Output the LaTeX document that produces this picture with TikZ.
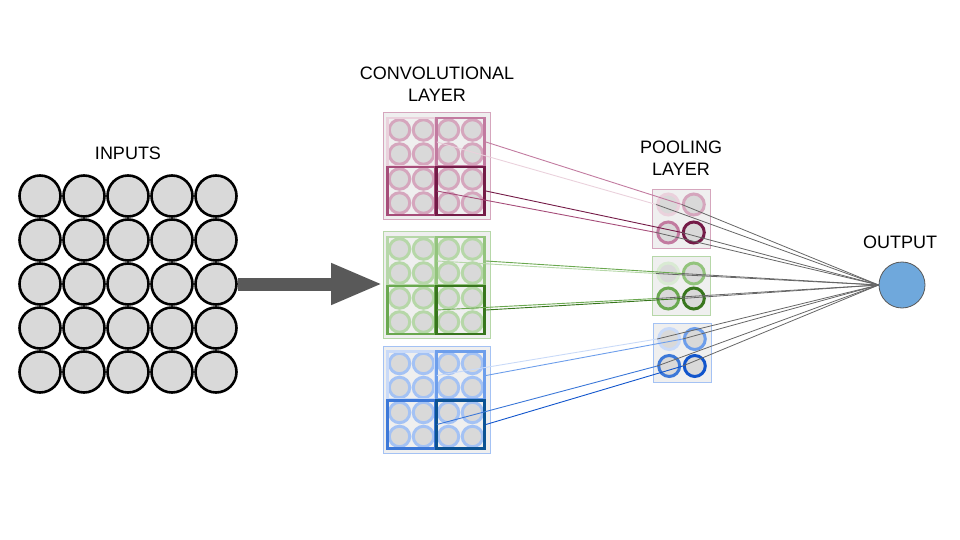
\documentclass[tikz,border=0pt]{standalone}
\usepackage{fontspec}
\setmainfont{Liberation Sans}
\usepackage{tikz}
\usetikzlibrary{calc,arrows.meta}
\definecolor{cellgray}{HTML}{D9D9D9}
\definecolor{boxgray}{HTML}{EFEFEF}
\definecolor{linkgray}{HTML}{666666}
\definecolor{arrowgray}{HTML}{595959}
\definecolor{outblue}{HTML}{6FA8DC}
\definecolor{pinkone}{HTML}{EAD1DC}
\definecolor{pinktwo}{HTML}{D5A6BD}
\definecolor{pinkthree}{HTML}{C27BA0}
\definecolor{pinkfour}{HTML}{A64D79}
\definecolor{pinkfive}{HTML}{741B47}
\definecolor{greenone}{HTML}{D9EAD3}
\definecolor{greentwo}{HTML}{B6D7A8}
\definecolor{greenthree}{HTML}{93C47D}
\definecolor{greenfour}{HTML}{6AA84F}
\definecolor{greenfive}{HTML}{38761D}
\definecolor{blueone}{HTML}{C9DAF8}
\definecolor{bluetwo}{HTML}{A4C2F4}
\definecolor{bluethree}{HTML}{6D9EEB}
\definecolor{bluefour}{HTML}{3C78D8}
\definecolor{bluefive}{HTML}{1155CC}
\definecolor{bluesix}{HTML}{0B5394}
\tikzset{
    title/.style={
        align=center,
        font=\fontsize{18}{22}\selectfont
    },
    incell/.style={
        circle,
        draw=black,
        line width=2.6pt,
        fill=cellgray,
        minimum size=41pt,
        inner sep=0pt
    },
    convbox/.style={
        draw,
        line width=1pt,
        fill=boxgray,
        minimum width=107pt,
        minimum height=107pt,
        inner sep=0pt
    },
    convcell/.style={
        circle,
        line width=3pt,
        fill=cellgray,
        minimum size=20.5pt,
        inner sep=0pt
    },
    convsq/.style={
        draw,
        line width=2.8pt,
        minimum size=48pt,
        inner sep=0pt
    },
    poolbox/.style={
        draw,
        line width=1pt,
        fill=boxgray,
        minimum width=58pt,
        minimum height=59pt,
        inner sep=0pt
    },
    poolcell/.style={
        circle,
        draw,
        line width=3pt,
        fill=cellgray,
        minimum size=21pt,
        inner sep=0pt
    },
    outcell/.style={
        circle,
        draw=arrowgray,
        line width=0.8pt,
        fill=outblue,
        minimum size=46pt,
        inner sep=0pt
    },
    link/.style={
        line width=0.9pt
    },
    outlink/.style={
        draw=linkgray,
        line width=0.8pt
    },
    bigarrow/.style={
        draw=arrowgray,
        line width=13pt,
        -{Triangle[width=38pt,length=52pt]}
    }
}

\begin{document}
\begin{tikzpicture}[x=1pt,y=-1pt]
    \useasboundingbox (0,0) rectangle (960,540);

    %% Inputs
    \node (TI) [title] at (128,153) {INPUTS};
    \foreach \r in {1,...,5}
        \foreach \c in {1,...,5}
            \node (I\r\c) [incell] at ({40+44*(\c-1)},{196+44*(\r-1)}) {};

    %% Convolutional layer
    \node (TC) [title] at (437,84) {CONVOLUTIONAL\\LAYER};

    \node (CP) [convbox,draw=pinktwo] at (437,166) {};
    \foreach \x in {-37.5,-13.5,11.5,35.5}
        \foreach \y in {-36,-12,13,37}
            \node[convcell,draw=pinktwo] at ($(CP)+(\x,\y)$) {};
    \node (CP1) [convsq,draw=pinkone] at ($(CP)+(-25.5,-24)$) {};
    \node (CP2) [convsq,draw=pinkthree] at ($(CP)+(23.5,-24)$) {};
    \node (CP3) [convsq,draw=pinkfour] at ($(CP)+(-25.5,25)$) {};
    \node (CP4) [convsq,draw=pinkfive] at ($(CP)+(23.5,25)$) {};

    \node (CG) [convbox,draw=greentwo] at (437,285) {};
    \foreach \x in {-37.5,-13.5,11.5,35.5}
        \foreach \y in {-36,-12,13,37}
            \node[convcell,draw=greentwo] at ($(CG)+(\x,\y)$) {};
    \node (CG1) [convsq,draw=greentwo] at ($(CG)+(-25.5,-24)$) {};
    \node (CG2) [convsq,draw=greenthree] at ($(CG)+(23.5,-24)$) {};
    \node (CG3) [convsq,draw=greenfour] at ($(CG)+(-25.5,25)$) {};
    \node (CG4) [convsq,draw=greenfive] at ($(CG)+(23.5,25)$) {};

    \node (CB) [convbox,draw=bluetwo] at (437,399.5) {};
    \foreach \x in {-37.5,-13.5,11.5,35.5}
        \foreach \y in {-36,-12,13,37}
            \node[convcell,draw=bluetwo] at ($(CB)+(\x,\y)$) {};
    \node (CB1) [convsq,draw=blueone] at ($(CB)+(-25.5,-24)$) {};
    \node (CB2) [convsq,draw=bluethree] at ($(CB)+(23.5,-24)$) {};
    \node (CB3) [convsq,draw=bluefour] at ($(CB)+(-25.5,25)$) {};
    \node (CB4) [convsq,draw=bluesix] at ($(CB)+(23.5,25)$) {};

    %% Pooling layer
    \node (TP) [title] at (681,158) {POOLING\\LAYER};

    \node (PP) [poolbox,draw=pinktwo] at (681,218.5) {};
    \node (PP1) [poolcell,draw=pinkone] at ($(PP)+(-12.8,-14)$) {};
    \node (PP2) [poolcell,draw=pinktwo] at ($(PP)+(12.8,-14)$) {};
    \node (PP3) [poolcell,draw=pinkthree] at ($(PP)+(-12.8,14)$) {};
    \node (PP4) [poolcell,draw=pinkfive] at ($(PP)+(12.8,14)$) {};

    \node (PG) [poolbox,draw=greentwo] at (681,285.5) {};
    \node (PG1) [poolcell,draw=greenone] at ($(PG)+(-12.8,-12)$) {};
    \node (PG2) [poolcell,draw=greenthree] at ($(PG)+(12.8,-12)$) {};
    \node (PG3) [poolcell,draw=greenfour] at ($(PG)+(-12.8,13)$) {};
    \node (PG4) [poolcell,draw=greenfive] at ($(PG)+(12.8,13)$) {};

    \node (PB) [poolbox,draw=bluetwo] at (682,352.5) {};
    \node (PB1) [poolcell,draw=blueone] at ($(PB)+(-12.8,-13.5)$) {};
    \node (PB2) [poolcell,draw=bluethree] at ($(PB)+(12.8,-13.5)$) {};
    \node (PB3) [poolcell,draw=bluefour] at ($(PB)+(-12.8,13.5)$) {};
    \node (PB4) [poolcell,draw=bluefive] at ($(PB)+(12.8,13.5)$) {};

    %% Output
    \node (TO) [title] at (900,242) {OUTPUT};
    \node (O) [outcell] at (902,285) {};

    %% Links: conv -> pool
    \draw[link,pinkone] (CP1.east) -- (PP1.west);
    \draw[link,pinkthree] (CP2.east) -- (PP2.west);
    \draw[link,pinkfour] (CP3.east) -- (PP3.west);
    \draw[link,pinkfive] (CP4.east) -- (PP4.west);
    \draw[link,greentwo] (CG1.east) -- (PG1.west);
    \draw[link,greenfour] (CG2.east) -- (PG2.west);
    \draw[link,greenfour] (CG3.east) -- (PG3.west);
    \draw[link,greenfive] (CG4.east) -- (PG4.west);
    \draw[link,blueone] (CB1.east) -- (PB1.west);
    \draw[link,bluethree] (CB2.east) -- (PB2.west);
    \draw[link,bluefour] (CB3.east) -- (PB3.west);
    \draw[link,bluefive] (CB4.east) -- (PB4.west);

    %% Links: pool -> output
    \foreach \p in {PP,PG,PB}
        \foreach \k in {1,...,4}
            \draw[outlink] (\p\k.west) -- (O.west);

    %% Arrow into the conv layer
    \draw[bigarrow] (I35.east) -- (I35.east -| CG.west);

\end{tikzpicture}
\end{document}
